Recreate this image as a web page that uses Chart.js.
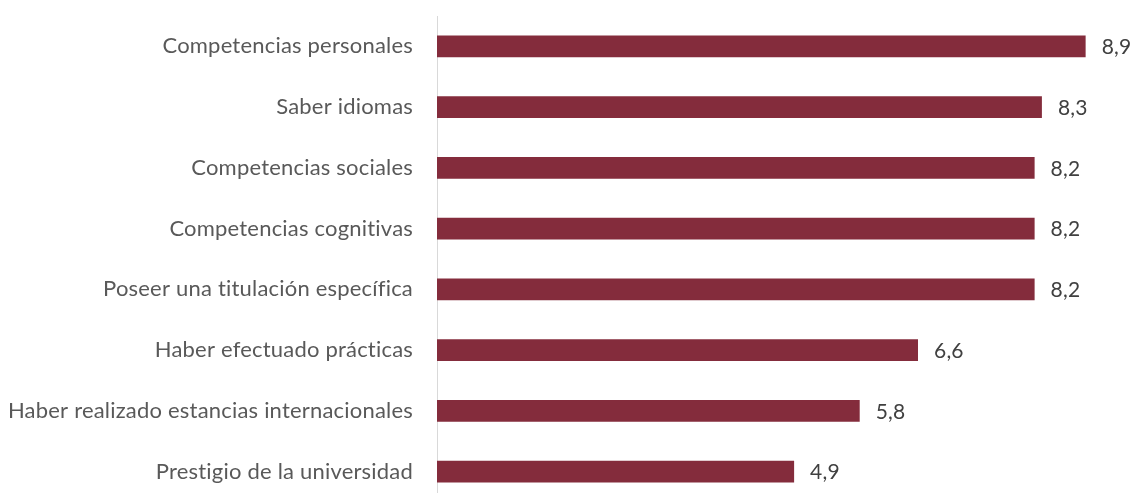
<!DOCTYPE html>
<html>
<head>
<meta charset="utf-8">
<script src="https://cdn.jsdelivr.net/npm/chart.js@4/dist/chart.umd.min.js"></script>
<style>
  html, body { margin: 0; padding: 0; background: #fff; overflow: hidden; }
  #wrap { position: relative; width: 1133px; height: 502px; }
</style>
</head>
<body>
<div id="wrap"><canvas id="chart"></canvas></div>
<script>
// categories and values, top to bottom
const categories = [
    'Competencias personales',
    'Saber idiomas',
    'Competencias sociales',
    'Competencias cognitivas',
    'Poseer una titulación específica',
    'Haber efectuado prácticas',
    'Haber realizado estancias internacionales',
    'Prestigio de la universidad'
];
const values = [8.9, 8.3, 8.2, 8.2, 8.2, 6.6, 5.8, 4.9];

const FONT = 'Lato, "Open Sans", sans-serif';

// a tiny letter spacing keeps Lato from joining "ti" into a ligature
const noLigatures = {
    id: 'noLigatures',
    beforeDraw(chart) {
        chart.ctx.letterSpacing = '0.2px';
    }
};

// draws the value next to the end of each bar (8,9 style)
const valueLabels = {
    id: 'valueLabels',
    afterDatasetsDraw(chart) {
        const ctx = chart.ctx;
        const meta = chart.getDatasetMeta(0);
        ctx.save();
        ctx.font = '21px ' + FONT;
        ctx.fillStyle = '#404040';
        ctx.textAlign = 'left';
        ctx.textBaseline = 'middle';
        meta.data.forEach((bar, i) => {
            const txt = values[i].toFixed(1).replace('.', ',');
            ctx.fillText(txt, bar.x + 16, bar.y + 1);
        });
        ctx.restore();
    }
};

new Chart(document.getElementById('chart'), {
    type: 'bar',
    data: {
        labels: categories,
        datasets: [{
            data: values,
            backgroundColor: '#842c3c',
            borderWidth: 0,
            categoryPercentage: 1,
            barPercentage: 0.36
        }]
    },
    options: {
        indexAxis: 'y',
        responsive: true,
        maintainAspectRatio: false,
        animation: false,
        layout: { padding: { top: 16, right: 0, bottom: 0, left: 0 } },
        plugins: { legend: { display: false }, tooltip: { enabled: false } },
        scales: {
            x: {
                display: false,
                min: 0,
                max: 9.55
            },
            y: {
                afterFit(scale) {
                    scale.width = 437;
                    // no extra room above/below for the tick labels
                    scale.paddingTop = 0;
                    scale.paddingBottom = 0;
                },
                grid: { display: false, drawTicks: false },
                border: { display: true, color: '#d9d9d9', width: 1 },
                ticks: {
                    padding: 24,
                    color: '#595959',
                    font: { family: FONT, size: 22 }
                }
            }
        }
    },
    plugins: [noLigatures, valueLabels]
});
</script>
</body>
</html>
